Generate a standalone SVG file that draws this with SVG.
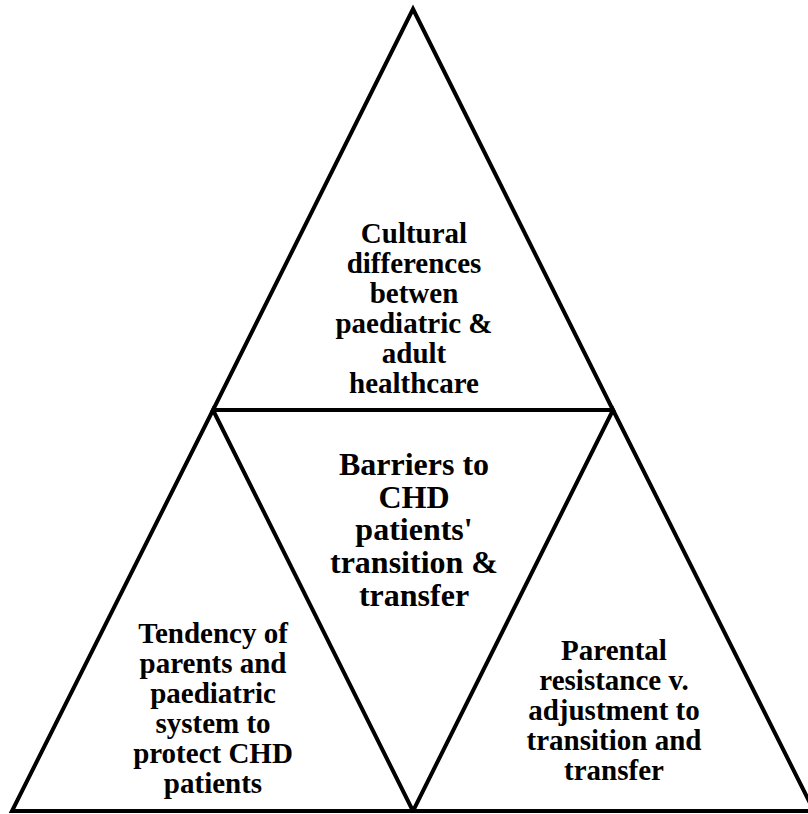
<svg xmlns="http://www.w3.org/2000/svg" width="808" height="814" viewBox="0 0 808 814">
<style>
.tri{fill:none;stroke:#000;stroke-width:4;stroke-linejoin:miter}
.t{font-family:"Liberation Serif","Times New Roman",serif;font-weight:bold;font-size:29px;text-anchor:middle;fill:#000}
.c{font-size:32px}
</style>
<rect width="808" height="814" fill="#fff"/>
<g id="top">
<polygon class="tri" points="413,9 613,410 213,410"/>
<text class="t" x="414" y="243">Cultural</text>
<text class="t" x="414" y="273">differences</text>
<text class="t" x="414" y="303">betwen</text>
<text class="t" x="414" y="333">paediatric &amp;</text>
<text class="t" x="414" y="363">adult</text>
<text class="t" x="414" y="393">healthcare</text>
</g>
<g id="left">
<polygon class="tri" points="213,410 413,811 12,811"/>
<text class="t" x="213" y="643">Tendency of</text>
<text class="t" x="213" y="673">parents and</text>
<text class="t" x="213" y="703">paediatric</text>
<text class="t" x="213" y="733">system to</text>
<text class="t" x="213" y="763">protect CHD</text>
<text class="t" x="213" y="793">patients</text>
</g>
<g id="right">
<polygon class="tri" points="613,410 814,811 413,811"/>
<text class="t" x="614" y="660">Parental</text>
<text class="t" x="614" y="690">resistance v.</text>
<text class="t" x="614" y="720">adjustment to</text>
<text class="t" x="614" y="750">transition and</text>
<text class="t" x="614" y="780">transfer</text>
</g>
<g id="center">
<text class="t c" x="414" y="475">Barriers to</text>
<text class="t c" x="414" y="508">CHD</text>
<text class="t c" x="414" y="540">patients'</text>
<text class="t c" x="414" y="573">transition &amp;</text>
<text class="t c" x="414" y="606">transfer</text>
</g>
<g id="connectors"></g>
</svg>
